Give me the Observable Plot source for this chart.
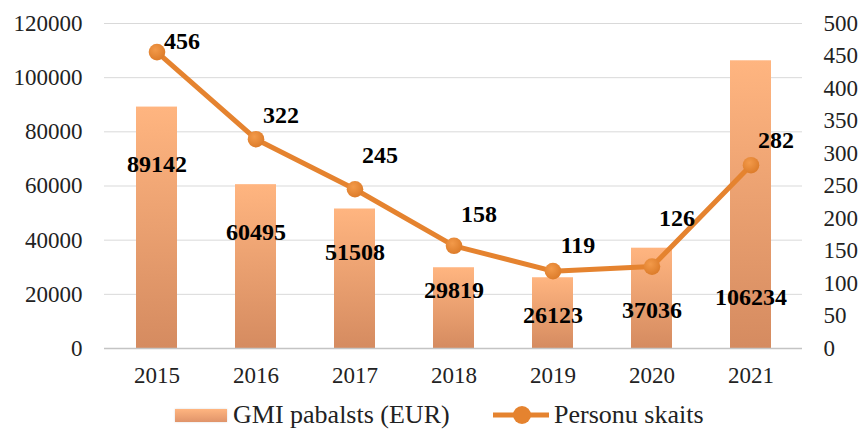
<!DOCTYPE html>
<html>
<head>
<meta charset="utf-8">
<script src="https://cdn.jsdelivr.net/npm/d3@7"></script>
<script src="https://cdn.jsdelivr.net/npm/@observablehq/plot@0.6"></script>
<style>
  html, body { margin: 0; padding: 0; background: #fff; }
  #wrap { width: 861px; height: 434px; position: relative; overflow: hidden; font-family: "Liberation Serif", "Times New Roman", serif; }
  #legend { position: absolute; left: 0; top: 398px; width: 861px; height: 34px; }
  .item { position: absolute; top: 0; height: 34px; display: flex; align-items: center; font-size: 26px; line-height: 30px; color: #222; white-space: nowrap; }
  .swatch { width: 52px; height: 13px; margin-right: 6px; background: linear-gradient(#FFB580, #E0946A); box-shadow: 0 0 2px rgba(0,0,0,0.15); }
</style>
</head>
<body>
<div id="wrap">
  <div id="chart"></div>
  <div id="legend">
    <div class="item" style="left:175px"><div class="swatch"></div><span>GMI pabalsts (EUR)</span></div>
    <div class="item" style="left:493px">
      <svg width="58" height="22" style="margin-right:3px"><line x1="0" y1="11" x2="56" y2="11" stroke="#E5832F" stroke-width="5"/><circle cx="29" cy="11" r="9" fill="#E5832F"/></svg>
      <span>Personu skaits</span>
    </div>
  </div>
</div>
<script>
const years = ["2015", "2016", "2017", "2018", "2019", "2020", "2021"];
const gmiEUR = [89142, 60495, 51508, 29819, 26123, 37036, 106234];
const persons = [456, 322, 245, 158, 119, 126, 282];
const leftTicks = [0, 20000, 40000, 60000, 80000, 100000, 120000];
const rightTicks = [0, 50, 100, 150, 200, 250, 300, 350, 400, 450, 500];
// where the value labels sit (in each axis's units)
const gmiLabelAt = [67900, 42800, 35400, 21400, 12200, 14000, 18800];
const personsLabelAt = [473, 358, 297, 207, 158, 200, 320];

const ratio = 120000 / 500;
const data = years.map((year, i) => ({
  year,
  gmi: gmiEUR[i],
  persons: persons[i],
  personsY: persons[i] * ratio,
  gmiLab: gmiLabelAt[i],
  perLab: personsLabelAt[i] * ratio
}));

const orange = "#E5832F";

const plot = Plot.plot({
  width: 861,
  height: 395,
  marginLeft: 104,
  marginRight: 59,
  marginTop: 23,
  marginBottom: 47,
  style: { fontFamily: "'Liberation Serif', 'Times New Roman', serif", fontSize: "23px", color: "#222", background: "#fff", overflow: "visible" },
  x: { domain: years, paddingInner: 0.59, paddingOuter: 0.295, label: null },
  y: { domain: [0, 120000], label: null },
  marks: [
    Plot.gridY(leftTicks.filter(t => t > 0), { stroke: "#d9d9d9", strokeOpacity: 1, strokeWidth: 1 }),
    Plot.axisY({ ticks: leftTicks, tickSize: 0, tickPadding: 22, label: null, tickFormat: d => String(d), fill: "#222" }),
    Plot.axisY({ anchor: "right", ticks: rightTicks.map(t => t * ratio), tickSize: 0, tickPadding: 21, textAnchor: "start", label: null, tickFormat: d => String(Math.round(d / ratio)), fill: "#222" }),
    Plot.axisX({ tickSize: 0, tickPadding: 18, label: null, fill: "#222" }),
    Plot.barY(data, { x: "year", y: "gmi", fill: "url(#gmiGrad)", style: "filter:url(#soft)" }),
    Plot.ruleY([0], { stroke: "#c4c4c4", strokeWidth: 1.5 }),
    Plot.line(data, { x: "year", y: "personsY", stroke: orange, strokeWidth: 5 }),
    Plot.dot(data, { x: "year", y: "personsY", r: 8.3, fill: "url(#dotGrad)", stroke: "none" }),
    Plot.text(data, { x: "year", y: "gmiLab", text: d => String(d.gmi), fontWeight: "bold", fontSize: 24, fill: "#000" }),
    Plot.text(data, { x: "year", y: "perLab", text: d => String(d.persons), dx: 25, fontWeight: "bold", fontSize: 24, fill: "#000" })
  ]
});

const svg = d3.select(plot);
const defs = svg.insert("defs", ":first-child");
const lg = defs.append("linearGradient").attr("id", "gmiGrad").attr("x1", 0).attr("y1", 0).attr("x2", 0).attr("y2", 1);
lg.append("stop").attr("offset", "0%").attr("stop-color", "#FFB580");
lg.append("stop").attr("offset", "100%").attr("stop-color", "#D58B60");
const rg = defs.append("radialGradient").attr("id", "dotGrad").attr("cx", "40%").attr("cy", "35%").attr("r", "70%");
rg.append("stop").attr("offset", "0%").attr("stop-color", "#F39A4A");
rg.append("stop").attr("offset", "100%").attr("stop-color", "#DB7A28");
const f = defs.append("filter").attr("id", "soft").attr("x", "-20%").attr("y", "-5%").attr("width", "140%").attr("height", "110%");
f.append("feDropShadow").attr("dx", 0).attr("dy", 0).attr("stdDeviation", 1.5).attr("flood-color", "#000").attr("flood-opacity", 0.15);

document.getElementById("chart").appendChild(plot);
</script>
</body>
</html>
